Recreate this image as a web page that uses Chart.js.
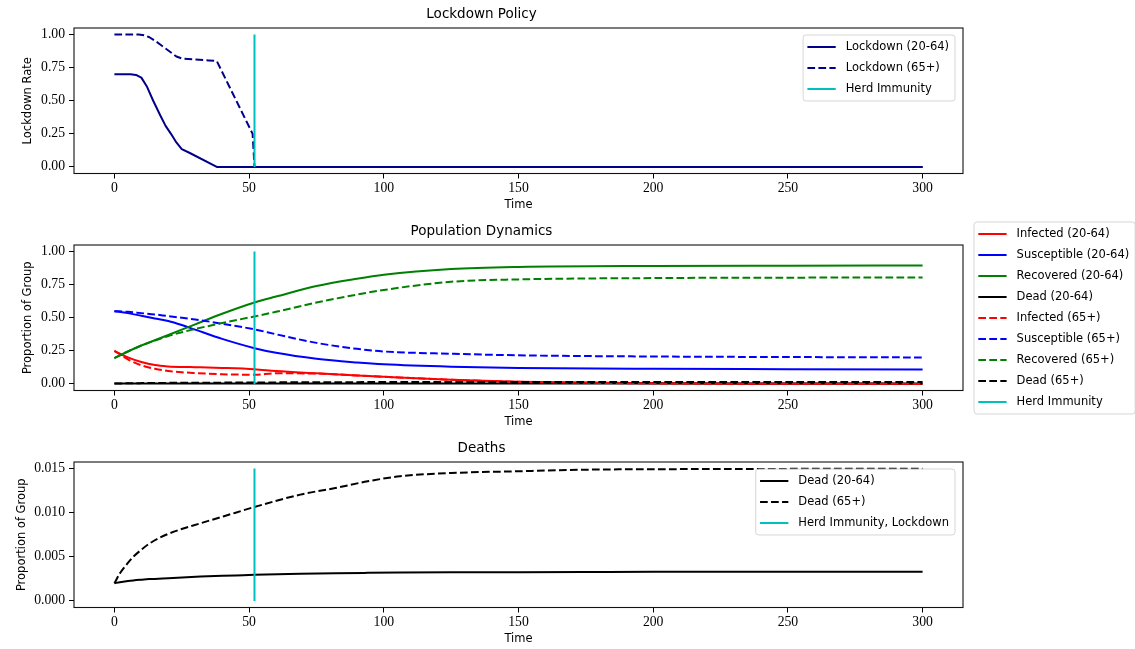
<!DOCTYPE html>
<html>
<head>
<meta charset="utf-8">
<script src="https://cdn.jsdelivr.net/npm/chart.js@4.4.1/dist/chart.umd.min.js"></script>
<style>
    html, body { margin: 0; padding: 0; background: #fff; }
    #wrap { position: relative; width: 1135px; height: 649px; overflow: hidden; }
    canvas { position: absolute; left: 0; }
</style>
</head>
<body>
<div id="wrap">
    <canvas id="Chart_Lockdown" width="1135" height="217" style="top:0px"></canvas>
    <canvas id="Chart_Population" width="1135" height="217" style="top:217px"></canvas>
    <canvas id="Chart_Deaths" width="1135" height="215" style="top:434px"></canvas>
</div>
<script>
// ----- dữ liệu -----
const xTicks = [0, 50, 100, 150, 200, 250, 300];
const rateTicks = [0, 0.25, 0.5, 0.75, 1.0];
const deadTicks = [0, 0.005, 0.01, 0.015];

// đường Herd Immunity (thẳng đứng tại t = 52)
const herdTime = [52, 52];
const herdRate = [0, 1];
const herdDead = [0, 0.015];

// Lockdown Policy
const tLock2064 = [0, 6, 8, 10, 12, 14.4, 17, 19, 21, 23, 25, 28, 38, 100, 200, 300];
const lock2064 = [0.70, 0.70, 0.695, 0.675, 0.61, 0.50, 0.39, 0.31, 0.25, 0.185, 0.135, 0.105, 0, 0, 0, 0];
const tLock65 = [0, 9, 11, 13, 15, 17, 19, 21, 23, 25, 30, 35, 38, 51.3, 52, 100, 200, 300];
const lock65 = [1, 1, 0.995, 0.98, 0.955, 0.925, 0.895, 0.865, 0.835, 0.82, 0.812, 0.805, 0.80, 0.25, 0, 0, 0, 0];

// Population Dynamics
const tPop = [0, 5, 10, 15, 20, 25, 30, 40, 52, 60, 75, 90, 100, 125, 150, 200, 250, 300];
const inf2064 = [0.25, 0.20, 0.165, 0.142, 0.132, 0.128, 0.126, 0.121, 0.111, 0.097, 0.08, 0.064, 0.054, 0.031, 0.016, 0.004, 0.001, 0.0];
const inf65 = [0.25, 0.185, 0.14, 0.115, 0.098, 0.088, 0.082, 0.073, 0.069, 0.08, 0.078, 0.064, 0.054, 0.031, 0.016, 0.004, 0.001, 0.0];
const sus2064 = [0.55, 0.535, 0.515, 0.495, 0.475, 0.445, 0.41, 0.34, 0.27, 0.235, 0.19, 0.162, 0.148, 0.13, 0.121, 0.114, 0.111, 0.108];
const sus65 = [0.55, 0.545, 0.535, 0.525, 0.512, 0.5, 0.487, 0.455, 0.412, 0.375, 0.31, 0.265, 0.245, 0.228, 0.216, 0.207, 0.203, 0.2];
const rec2064 = [0.195, 0.245, 0.29, 0.33, 0.37, 0.41, 0.45, 0.53, 0.615, 0.66, 0.74, 0.795, 0.825, 0.868, 0.884, 0.892, 0.894, 0.895];
const rec65 = [0.195, 0.245, 0.29, 0.328, 0.362, 0.39, 0.415, 0.46, 0.51, 0.545, 0.615, 0.675, 0.71, 0.772, 0.79, 0.80, 0.803, 0.805];

// Deaths
const tDead = [0, 2, 5, 7, 10, 13, 20, 32, 45, 52, 69, 82, 94, 106, 125, 150, 175, 200, 250, 300];
const dead2064 = [0.002, 0.00212, 0.00225, 0.00232, 0.0024, 0.00247, 0.00258, 0.00276, 0.00288, 0.00295, 0.00307, 0.00314, 0.00318, 0.00321, 0.00324, 0.00326, 0.00328, 0.00329, 0.0033, 0.0033];
const dead65 = [0.002, 0.0031, 0.0043, 0.005, 0.0058, 0.0065, 0.0076, 0.0088, 0.01, 0.01065, 0.01205, 0.0128, 0.01356, 0.01413, 0.0145, 0.0147, 0.01488, 0.01493, 0.01497, 0.01498];

// ----- cấu hình chung -----
const SANS = '"DejaVu Sans", sans-serif';
const SERIF = '"Liberation Serif", serif';
const DASH = [7.7, 3.3];
const HERD = '#00bfbf';
Chart.defaults.color = '#000';

function xy(ts, vs) {
    return ts.map(function (t, i) { return { x: t, y: vs[i] }; });
}

function line(label, ts, vs, color, dashed, straight) {
    const d = {
        label: label,
        data: xy(ts, vs),
        borderColor: color,
        backgroundColor: color,
        borderWidth: 2,
        borderDash: dashed ? DASH : [],
        borderJoinStyle: 'round',
        pointRadius: 0,
        cubicInterpolationMode: 'monotone',
        fill: false
    };
    if (straight) {
        d.cubicInterpolationMode = 'default';
        d.tension = 0;
    }
    return d;
}

function herd(label, vs) {
    return line(label, herdTime, vs, HERD, false, true);
}

// khung 4 cạnh quanh vùng vẽ
const frame = {
    id: 'frame',
    afterDatasetsDraw: function (chart) {
        const a = chart.chartArea;
        const ctx = chart.ctx;
        ctx.save();
        ctx.strokeStyle = '#111';
        ctx.lineWidth = 1.1;
        ctx.strokeRect(a.left, a.top, a.right - a.left, a.bottom - a.top);
        ctx.restore();
    }
};

// chú thích kiểu matplotlib
const boxLegend = {
    id: 'boxLegend',
    afterDraw: function (chart, args, opts) {
        if (!opts || !opts.where) return;
        const ctx = chart.ctx;
        const a = chart.chartArea;
        const items = chart.data.datasets;
        ctx.save();
        ctx.font = '11.5px ' + SANS;
        const tw = Math.max.apply(null, items.map(function (d) { return ctx.measureText(d.label).width; }));
        const w = 4.3 + 28.3 + 10 + tw + 6;
        const h = 12 + (items.length - 1) * 21 + 12;
        const x0 = opts.where === 'outside' ? a.right + 11 : a.right - 8 - w;
        const y0 = opts.where === 'outside' ? a.top - 23 : a.top + 7;
        ctx.beginPath();
        if (ctx.roundRect) ctx.roundRect(x0, y0, w, h, 3); else ctx.rect(x0, y0, w, h);
        ctx.fillStyle = 'rgba(255,255,255,0.8)';
        ctx.fill();
        ctx.strokeStyle = 'rgba(204,204,204,0.8)';
        ctx.lineWidth = 1;
        ctx.stroke();
        items.forEach(function (d, i) {
            const y = y0 + 12 + i * 21;
            ctx.beginPath();
            ctx.setLineDash(d.borderDash || []);
            ctx.strokeStyle = d.borderColor;
            ctx.lineWidth = d.borderWidth;
            ctx.moveTo(x0 + 4.3, y);
            ctx.lineTo(x0 + 32.6, y);
            ctx.stroke();
            ctx.setLineDash([]);
            ctx.fillStyle = '#000';
            ctx.textBaseline = 'middle';
            ctx.textAlign = 'left';
            ctx.fillText(d.label, x0 + 42.6, y);
        });
        ctx.restore();
    }
};

function makeChart(id, cfg) {
    const canvas = document.getElementById(id);
    const H = canvas.height;
    const padBottom = H - 205 - 6.9;
    const datasets = cfg.datasets.map(function (d, i) { d.order = -i; return d; });
    return new Chart(canvas, {
        type: 'line',
        data: { datasets: datasets },
        options: {
            responsive: false,
            animation: false,
            devicePixelRatio: 1,
            events: [],
            layout: { padding: { top: 0, left: 0, right: 1135 - 963, bottom: padBottom } },
            plugins: {
                legend: { display: false },
                tooltip: { enabled: false },
                title: {
                    display: true,
                    text: cfg.title,
                    color: '#000',
                    font: { family: SANS, size: 13.5, weight: 'normal' },
                    padding: { top: 6.8, bottom: 5 }
                },
                boxLegend: cfg.legend
            },
            scales: {
                x: {
                    type: 'linear',
                    min: -15,
                    max: 315,
                    afterBuildTicks: function (s) { s.ticks = xTicks.map(function (v) { return { value: v }; }); },
                    afterFit: function (s) { s.height = H - 173.5 - padBottom; },
                    grid: { drawOnChartArea: false, drawTicks: true, tickLength: 5, color: '#000', lineWidth: 1 },
                    border: { display: false },
                    ticks: {
                        padding: 2,
                        maxRotation: 0,
                        color: '#000',
                        font: { family: SERIF, size: 13.7 },
                        callback: function (v) { return String(v); }
                    },
                    title: {
                        display: true,
                        text: 'Time',
                        color: '#000',
                        font: { family: SANS, size: 11.5 },
                        padding: 0
                    }
                },
                y: {
                    type: 'linear',
                    min: cfg.yMin,
                    max: cfg.yMax,
                    afterBuildTicks: function (s) { s.ticks = cfg.yTicks.map(function (v) { return { value: v }; }); },
                    afterFit: function (s) { s.width = 74; },
                    grid: { drawOnChartArea: false, drawTicks: true, tickLength: 5, color: '#000', lineWidth: 1 },
                    border: { display: false },
                    ticks: {
                        padding: 4,
                        color: '#000',
                        font: { family: SERIF, size: 13.7 },
                        callback: function (v) { return v.toFixed(cfg.digits); }
                    },
                    title: {
                        display: true,
                        text: cfg.yLabel,
                        color: '#000',
                        font: { family: SANS, size: 11.5 },
                        padding: { top: cfg.yTitlePad, bottom: 0 }
                    }
                }
            }
        },
        plugins: [frame, boxLegend]
    });
}

var Chart_Lockdown = makeChart('Chart_Lockdown', {
    title: 'Lockdown Policy',
    yLabel: 'Lockdown Rate',
    yMin: -0.05, yMax: 1.05, yTicks: rateTicks, digits: 2, yTitlePad: 21.6,
    legend: { where: 'inside' },
    datasets: [
        line('Lockdown (20-64)', tLock2064, lock2064, '#00008b', false, true),
        line('Lockdown (65+)', tLock65, lock65, '#00008b', true, true),
        herd('Herd Immunity', herdRate)
    ]
});

var Chart_Population = makeChart('Chart_Population', {
    title: 'Population Dynamics',
    yLabel: 'Proportion of Group',
    yMin: -0.05, yMax: 1.05, yTicks: rateTicks, digits: 2, yTitlePad: 21.2,
    legend: { where: 'outside' },
    datasets: [
        line('Infected (20-64)', tPop, inf2064, '#ff0000', false),
        line('Susceptible (20-64)', tPop, sus2064, '#0000ff', false),
        line('Recovered (20-64)', tPop, rec2064, '#008000', false),
        line('Dead (20-64)', tDead, dead2064, '#000000', false),
        line('Infected (65+)', tPop, inf65, '#ff0000', true),
        line('Susceptible (65+)', tPop, sus65, '#0000ff', true),
        line('Recovered (65+)', tPop, rec65, '#008000', true),
        line('Dead (65+)', tDead, dead65, '#000000', true),
        herd('Herd Immunity', herdRate)
    ]
});

var Chart_Deaths = makeChart('Chart_Deaths', {
    title: 'Deaths',
    yLabel: 'Proportion of Group',
    yMin: -0.00075, yMax: 0.01575, yTicks: deadTicks, digits: 3, yTitlePad: 15,
    legend: { where: 'inside' },
    datasets: [
        line('Dead (20-64)', tDead, dead2064, '#000000', false),
        line('Dead (65+)', tDead, dead65, '#000000', true),
        herd('Herd Immunity, Lockdown', herdDead)
    ]
});
</script>
</body>
</html>
